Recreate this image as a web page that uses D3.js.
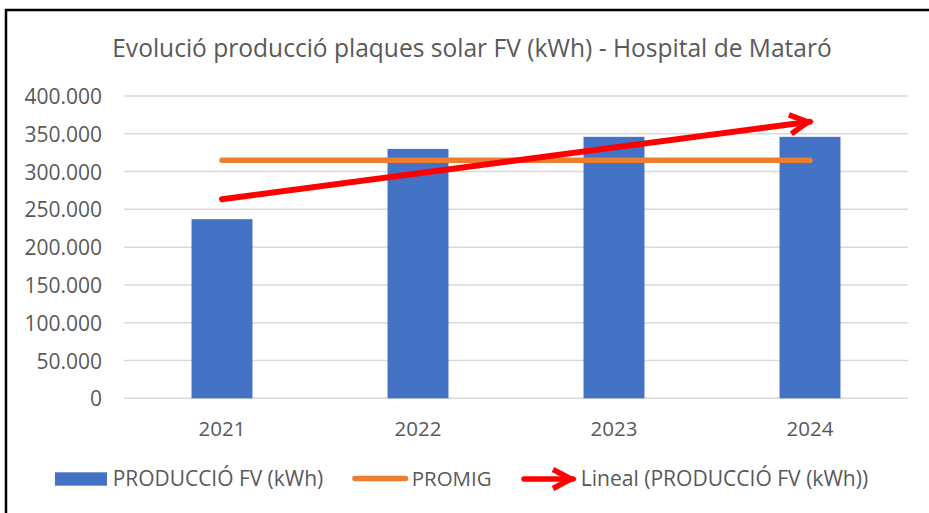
<!DOCTYPE html>
<html>
<head>
<meta charset="utf-8">
<script src="https://cdn.jsdelivr.net/npm/d3@7"></script>
<style>
  html, body { margin: 0; padding: 0; background: #fff; }
  svg { display: block; }
  text { font-family: "Open Sans", "Noto Sans", sans-serif; }
</style>
</head>
<body>
<svg id="chart" width="929" height="513"></svg>
<script>
// ---- data ----
const categories = ["2021", "2022", "2023", "2024"];
const production = [237000, 330000, 346000, 346000];   // PRODUCCIÓ FV (kWh)
const promig = [315000, 315000, 315000, 315000];        // PROMIG
const trendCategories = ["2021", "2024"];
const trendValues = [263500, 366000];                   // Lineal (PRODUCCIÓ FV (kWh))
const yTicks = [0, 50000, 100000, 150000, 200000, 250000, 300000, 350000, 400000];
const titleText = "Evolució producció plaques solar FV (kWh) - Hospital de Mataró";
const legendLabels = ["PRODUCCIÓ FV (kWh)", "PROMIG", "Lineal (PRODUCCIÓ FV (kWh))"];

const colors = { bar: "#4472C4", avg: "#ED7D31", trend: "#FF0000", text: "#595959", grid: "#D9D9D9" };

const svg = d3.select("#chart");
svg.append("rect").attr("width", 929).attr("height", 513).attr("fill", "#fff");

// chart border (right/bottom edges are outside the frame)
svg.append("path").attr("d", "M6,620 V10 H960")
  .attr("fill", "none").attr("stroke", "#000").attr("stroke-width", 2.5);

const loc = d3.formatLocale({ decimal: ",", thousands: ".", grouping: [3], currency: ["", "€"] });
const fmt = loc.format(",");

const x = d3.scaleBand().domain(categories).range([124, 908]).paddingInner(0.689).paddingOuter(0.3445);
const y = d3.scaleLinear().domain([0, 400000]).range([398.3, 96]);
const cx = c => x(c) + x.bandwidth() / 2;

function fit(sel, w) {
  const cur = sel.node().getComputedTextLength();
  const fs = parseFloat(sel.attr("font-size"));
  sel.attr("font-size", fs * w / cur);
}

// title
const title = svg.append("text").attr("x", 472).attr("y", 57)
  .attr("text-anchor", "middle").attr("fill", colors.text).attr("font-size", 24).text(titleText);
fit(title, 720);

// gridlines
svg.append("g").selectAll("line").data(yTicks).join("line")
  .attr("x1", 124).attr("x2", 908)
  .attr("y1", d => y(d)).attr("y2", d => y(d))
  .attr("stroke", colors.grid).attr("stroke-width", 1.5);

// y axis labels
const yAxis = svg.append("g").attr("transform", "translate(102,0)")
  .call(d3.axisLeft(y).tickValues(yTicks).tickFormat(fmt).tickSize(0).tickPadding(0));
yAxis.select(".domain").remove();
yAxis.selectAll("text").attr("font-size", 21).attr("fill", colors.text)
  .attr("font-family", "'Open Sans', sans-serif").attr("dy", "0.36em");

// x axis labels
const xAxis = svg.append("g").attr("transform", "translate(0,398.3)")
  .call(d3.axisBottom(x).tickSize(0));
xAxis.select(".domain").remove();
xAxis.selectAll("text").attr("font-size", 20.5).attr("fill", colors.text)
  .attr("font-family", "'Open Sans', sans-serif").attr("y", 37.7).attr("dy", 0);

// bars
svg.append("g").selectAll("rect").data(production).join("rect")
  .attr("x", (d, i) => x(categories[i])).attr("width", x.bandwidth())
  .attr("y", d => y(d)).attr("height", d => y(0) - y(d))
  .attr("fill", colors.bar);

// average line
const line = d3.line().x(d => cx(d[0])).y(d => y(d[1]));
svg.append("path").datum(categories.map((c, i) => [c, promig[i]]))
  .attr("d", line).attr("fill", "none").attr("stroke", colors.avg)
  .attr("stroke-width", 5.5).attr("stroke-linecap", "round");

// arrow marker
const defs = svg.append("defs");
defs.append("marker").attr("id", "arrow").attr("markerUnits", "userSpaceOnUse")
  .attr("viewBox", "-30 -15 36 30").attr("markerWidth", 36).attr("markerHeight", 30)
  .attr("refX", 0).attr("refY", 0).attr("orient", "auto")
  .append("path").attr("d", "M-20,-9.5 L-2,0 L-20,9.5")
  .attr("fill", "none").attr("stroke", colors.trend).attr("stroke-width", 5.5)
  .attr("stroke-linejoin", "miter").attr("stroke-linecap", "butt");

// trend line
svg.append("path").datum(trendCategories.map((c, i) => [c, trendValues[i]]))
  .attr("d", line).attr("fill", "none").attr("stroke", colors.trend)
  .attr("stroke-width", 6).attr("stroke-linecap", "round")
  .attr("marker-end", "url(#arrow)");

// legend
const lg = svg.append("g");
lg.append("rect").attr("x", 55).attr("y", 472.3).attr("width", 52).attr("height", 13.4).attr("fill", colors.bar);
const t1 = lg.append("text").attr("x", 112.7).attr("y", 486).attr("fill", colors.text).attr("font-size", 19).text(legendLabels[0]);
fit(t1, 210.6);
lg.append("line").attr("x1", 355).attr("x2", 405.5).attr("y1", 478.5).attr("y2", 478.5)
  .attr("stroke", colors.avg).attr("stroke-width", 5.5).attr("stroke-linecap", "round");
const t2 = lg.append("text").attr("x", 411.7).attr("y", 486).attr("fill", colors.text).attr("font-size", 19).text(legendLabels[1]);
fit(t2, 80);
lg.append("line").attr("x1", 524).attr("x2", 573).attr("y1", 479).attr("y2", 479)
  .attr("stroke", colors.trend).attr("stroke-width", 5.5).attr("stroke-linecap", "round")
  .attr("marker-end", "url(#arrow)");
const t3 = lg.append("text").attr("x", 580.7).attr("y", 486).attr("fill", colors.text).attr("font-size", 19).text(legendLabels[2]);
fit(t3, 287.6);
</script>
</body>
</html>
